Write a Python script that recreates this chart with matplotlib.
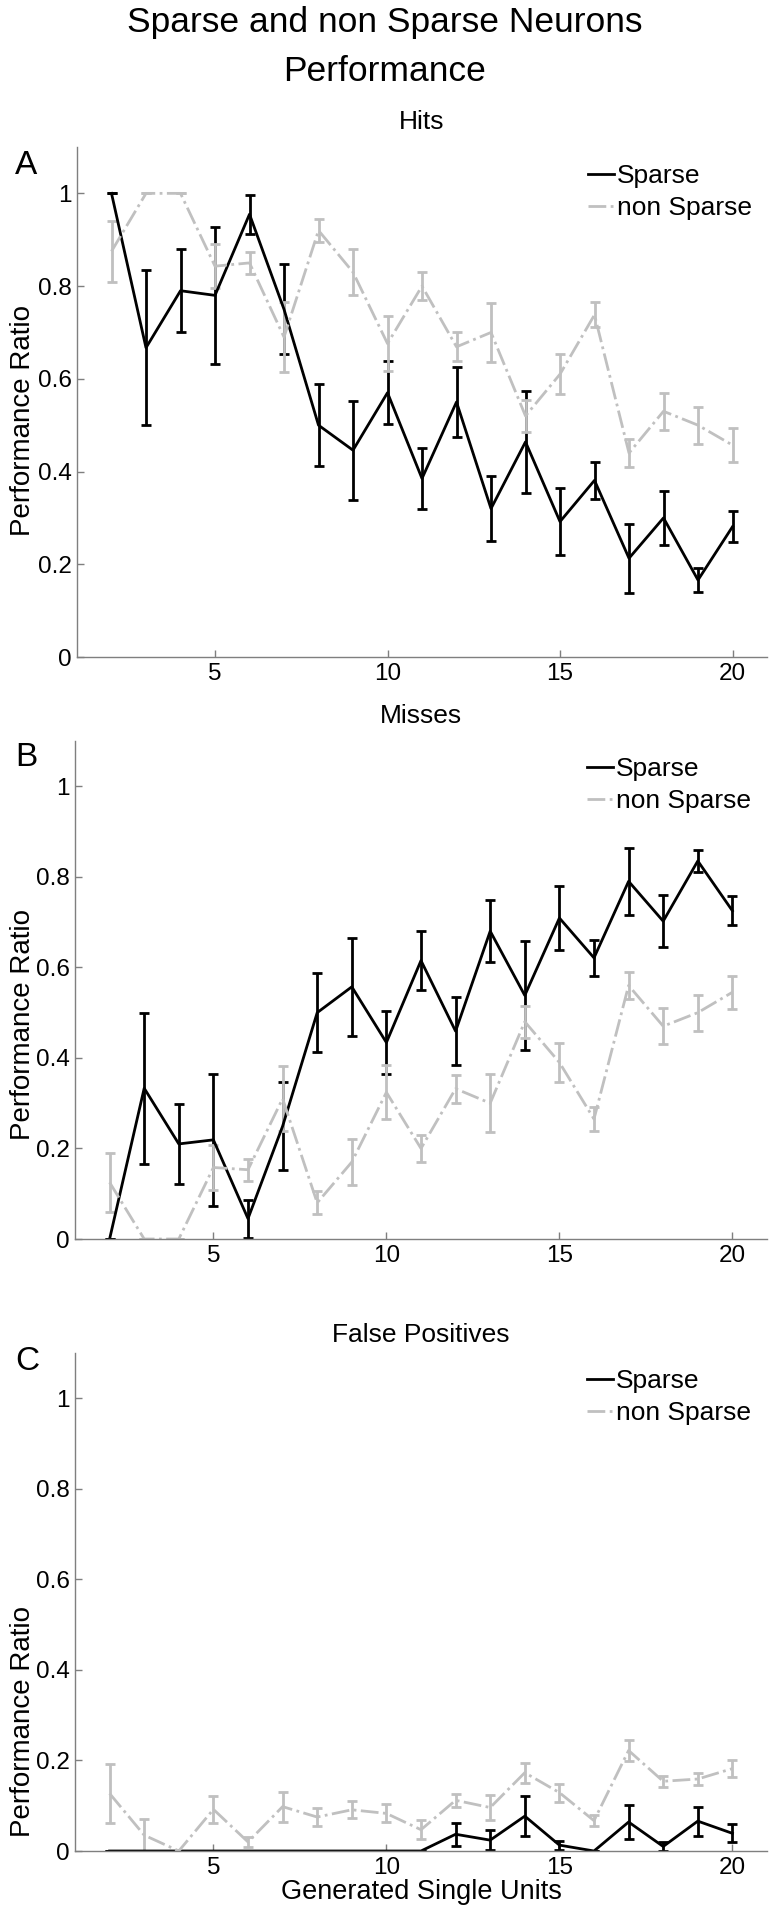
import matplotlib
matplotlib.use("Agg")
import matplotlib.pyplot as plt
from matplotlib.ticker import FixedLocator

plt.rcParams['font.family'] = ['Liberation Sans', 'DejaVu Sans']

# ---------------- data ----------------
units = [2, 3, 4, 5, 6, 7, 8, 9, 10, 11, 12, 13, 14, 15, 16, 17, 18, 19, 20]

hits_sparse = [1.0, 0.667, 0.79, 0.78, 0.955, 0.75, 0.50, 0.446, 0.57, 0.385,
               0.55, 0.32, 0.464, 0.292, 0.381, 0.213, 0.30, 0.166, 0.281]
hits_sparse_err = [0.0, 0.167, 0.09, 0.147, 0.042, 0.097, 0.088, 0.107, 0.068, 0.066,
                   0.075, 0.07, 0.11, 0.072, 0.04, 0.074, 0.058, 0.025, 0.034]
hits_nonsparse = [0.875, 1.0, 1.0, 0.843, 0.85, 0.69, 0.92, 0.83, 0.676, 0.80,
                  0.669, 0.70, 0.52, 0.61, 0.738, 0.44, 0.53, 0.50, 0.457]
hits_nonsparse_err = [0.066, 0.0, 0.0, 0.048, 0.024, 0.075, 0.025, 0.05, 0.06, 0.03,
                      0.031, 0.064, 0.035, 0.043, 0.027, 0.03, 0.04, 0.04, 0.036]

misses_sparse = [0.0, 0.333, 0.21, 0.219, 0.045, 0.249, 0.50, 0.557, 0.434, 0.615,
                 0.459, 0.68, 0.538, 0.709, 0.621, 0.79, 0.702, 0.835, 0.725]
misses_sparse_err = [0.0, 0.167, 0.089, 0.146, 0.042, 0.097, 0.088, 0.108, 0.07, 0.066,
                     0.075, 0.069, 0.12, 0.07, 0.04, 0.074, 0.057, 0.024, 0.032]
misses_nonsparse = [0.125, 0.0, 0.0, 0.158, 0.153, 0.31, 0.08, 0.17, 0.324, 0.20,
                    0.332, 0.30, 0.48, 0.39, 0.265, 0.56, 0.47, 0.50, 0.545]
misses_nonsparse_err = [0.066, 0.0, 0.0, 0.05, 0.024, 0.072, 0.025, 0.05, 0.06, 0.03,
                        0.031, 0.064, 0.035, 0.043, 0.027, 0.03, 0.04, 0.04, 0.036]

fp_sparse = [0.0, 0.0, 0.0, 0.0, 0.0, 0.0, 0.0, 0.0, 0.0, 0.0,
             0.037, 0.024, 0.077, 0.013, 0.0, 0.064, 0.01, 0.066, 0.039]
fp_sparse_err = [0.0, 0.0, 0.0, 0.0, 0.0, 0.0, 0.0, 0.0, 0.0, 0.0,
                 0.025, 0.022, 0.044, 0.01, 0.0, 0.038, 0.01, 0.032, 0.02]
fp_nonsparse = [0.127, 0.035, 0.0, 0.092, 0.02, 0.098, 0.075, 0.091, 0.083, 0.047,
                0.112, 0.096, 0.173, 0.129, 0.067, 0.222, 0.154, 0.159, 0.182]
fp_nonsparse_err = [0.065, 0.035, 0.0, 0.03, 0.012, 0.033, 0.02, 0.019, 0.02, 0.021,
                    0.015, 0.028, 0.022, 0.02, 0.012, 0.024, 0.012, 0.013, 0.018]

panel_titles = ["Hits", "Misses", "False Positives"]
panel_letters = ["A", "B", "C"]
series_names = ["Sparse", "non Sparse"]
yticks = [0, 0.2, 0.4, 0.6, 0.8, 1.0]
yticklabels = ["0", "0.2", "0.4", "0.6", "0.8", "1"]
xticks = [5, 10, 15, 20]
xticklabels = ["5", "10", "15", "20"]
suptitle = "Sparse and non Sparse Neurons\nPerformance"
ylabel = "Performance Ratio"
xlabel = "Generated Single Units"

# ---------------- layout ----------------
W, H = 770, 1912
fig = plt.figure(figsize=(W / 100, H / 100), dpi=100)

def frac_rect(left, top, right, bottom):
    return [left / W, 1 - bottom / H, (right - left) / W, (bottom - top) / H]

rects = [frac_rect(77, 147, 767, 657),
         frac_rect(75, 741, 767, 1239),
         frac_rect(75, 1353, 767, 1851)]

panels = [
    (hits_sparse, hits_sparse_err, hits_nonsparse, hits_nonsparse_err),
    (misses_sparse, misses_sparse_err, misses_nonsparse, misses_nonsparse_err),
    (fp_sparse, fp_sparse_err, fp_nonsparse, fp_nonsparse_err),
]

BLACK = "#000000"
GREY = "#c0c0c0"
SPINE = "#7f7f7f"

letter_y = [165, 758, 1362]
ylabel_y = [0.463, 0.43, 0.26]
ylabel_x = [-0.059, -0.056, -0.056]
title_pads = [13, 13, 8]

for i, (rect, data) in enumerate(zip(rects, panels)):
    ax = fig.add_axes(rect)
    s, se, ns, nse = data
    eb1 = ax.errorbar(units, s, yerr=se, color=BLACK, lw=2.0, elinewidth=2.0,
                      capsize=3.6, capthick=2.0, ls='-')
    eb2 = ax.errorbar(units, ns, yerr=nse, color=GREY, lw=2.0, elinewidth=2.0,
                      capsize=3.6, capthick=2.0, ls='-.')
    ax.set_xlim(1, 21)
    ax.set_ylim(0, 1.1)
    ax.yaxis.set_major_locator(FixedLocator(yticks))
    ax.set_yticklabels(yticklabels)
    ax.xaxis.set_major_locator(FixedLocator(xticks))
    ax.set_xticklabels(xticklabels)
    for sp in ("top", "right"):
        ax.spines[sp].set_visible(False)
    for sp in ("left", "bottom"):
        ax.spines[sp].set_color(SPINE)
        ax.spines[sp].set_linewidth(1.0)
    ax.tick_params(direction='in', length=5, width=1, color=SPINE,
                   labelsize=17.5, labelcolor='black', pad=4)
    ax.set_title(panel_titles[i], fontsize=19, pad=title_pads[i])
    ax.set_ylabel(ylabel, fontsize=20)
    ax.yaxis.set_label_coords(ylabel_x[i], ylabel_y[i])
    ax.legend([eb1[0], eb2[0]], series_names, loc='upper left',
              bbox_to_anchor=(0.74, 0.967), frameon=False, fontsize=19,
              handlelength=1.0, handletextpad=0.1, borderpad=0,
              borderaxespad=0, labelspacing=0.3)
    fig.text(15 / W, 1 - letter_y[i] / H, panel_letters[i], fontsize=24,
             ha='left', va='center')
    if i == 2:
        ax.set_xlabel(xlabel, fontsize=19.5, labelpad=0)

fig.text(0.5, 1 - 47 / H, suptitle, fontsize=25.5, ha='center', va='center',
         linespacing=1.6)

fig.savefig("out.png", dpi=100)
